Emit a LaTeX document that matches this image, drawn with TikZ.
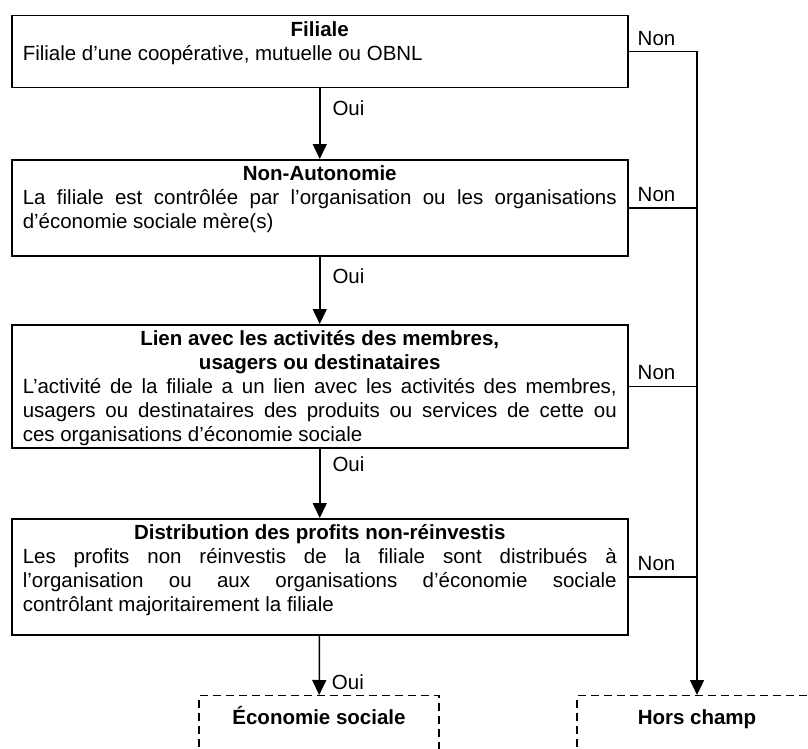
\documentclass[tikz,border=0pt]{standalone}
\usepackage{fontspec}
\setmainfont{Liberation Sans}
\usetikzlibrary{arrows.meta,calc}
% box text: fixed height, bold centred title, justified body
\newcommand\contenuboite[3]{\parbox[c][#1][t]{594pt}{{\centering\bfseries\rule{0pt}{21pt}#2\par}#3}}
\begin{document}
\begin{tikzpicture}[x=1pt,y=1pt,yscale=-1,
  font=\fontsize{20.5}{24}\selectfont,
  etape/.style={draw, line width=1.5pt, inner xsep=11pt, inner ysep=0pt, anchor=north west},
  issue/.style={draw, line width=1.3pt, dash pattern=on 8pt off 5pt, anchor=north,
    minimum width=240pt, inner ysep=6pt, text height=22.5pt, text depth=40pt,
    font=\fontsize{20.5}{24}\selectfont\bfseries},
  fleche/.style={line width=1.5pt, -{Triangle[length=15pt,width=14pt]}},
  trait/.style={line width=1.5pt},
  oui/.style={anchor=west, inner sep=0pt, xshift=12pt},
  non/.style={anchor=south west, inner sep=0pt}]
\useasboundingbox (0,0) rectangle (808,749);

%Boxes
\node[etape] (filiale) at (11,15) {\contenuboite{72pt}{Filiale}{Filiale d’une coopérative, mutuelle ou OBNL}};
\node[etape] (autonomie) at (11,159) {\contenuboite{96pt}{Non-Autonomie}{La filiale est contrôlée par l’organisation ou les organisations\linebreak d’économie sociale mère(s)}};
\node[etape] (lien) at (11,324) {\contenuboite{123pt}{Lien avec les activités des membres,\\ usagers ou destinataires}{L’activité de la filiale a un lien avec les activités des membres,\linebreak usagers ou destinataires des produits ou services de cette ou\linebreak ces organisations d’économie sociale}};
\node[etape] (distribution) at (11,518) {\contenuboite{116pt}{Distribution des profits non-réinvestis}{Les profits non réinvestis de la filiale sont distribués à\linebreak l’organisation ou aux organisations d’économie sociale\linebreak contrôlant majoritairement la filiale}};

%Outcomes
\node[issue] (economie) at (319,695) {Économie sociale};
\node[issue] (horschamp) at (697,695) {Hors champ};

%Oui
\draw[fleche] (filiale) -- node[oui, pos=0.28] (oui1) {Oui} (autonomie);
\draw[fleche] (autonomie) -- node[oui, pos=0.29] (oui2) {Oui} (lien);
\draw[fleche] (lien) -- node[oui, pos=0.23] (oui3) {Oui} (distribution);
\draw[fleche] (distribution) -- node[oui, pos=0.79] (oui4) {Oui} (economie);

%Non
\draw[fleche] (filiale.east) -| (horschamp.north);
\draw[trait] (autonomie.east) -- (autonomie.east -| horschamp.north);
\draw[trait] (lien.east) -- (lien.east -| horschamp.north);
\draw[trait] (distribution.east) -- (distribution.east -| horschamp.north);
\node[non] (non1) at ($(filiale.east)+(9,-6)$) {Non};
\node[non] (non2) at ($(autonomie.east)+(9,-6)$) {Non};
\node[non] (non3) at ($(lien.east)+(9,-6)$) {Non};
\node[non] (non4) at ($(distribution.east)+(9,-6)$) {Non};
\end{tikzpicture}
\end{document}
